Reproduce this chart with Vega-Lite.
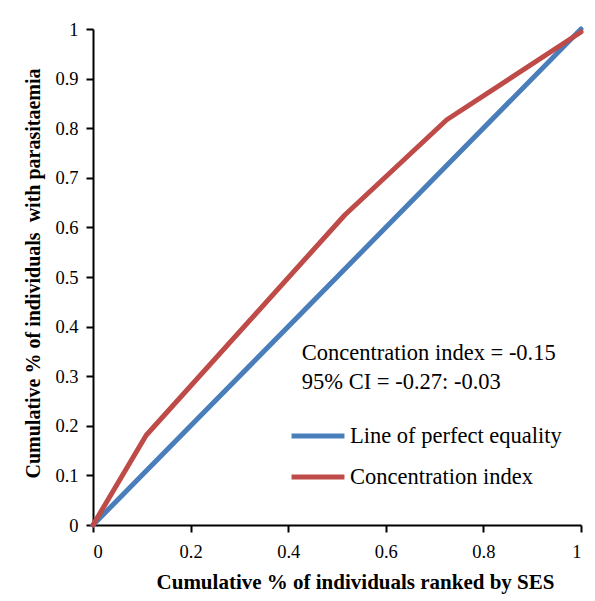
{
  "$schema": "https://vega.github.io/schema/vega-lite/v6.json",
  "autosize": "none",
  "width": 488,
  "height": 496,
  "padding": {"left": 93, "top": 29, "right": 14, "bottom": 76},
  "background": "white",
  "config": {
    "font": "Liberation Serif",
    "view": {"stroke": null},
    "axis": {
      "grid": false,
      "domainColor": "black",
      "domainWidth": 2,
      "tickColor": "black",
      "tickWidth": 2,
      "tickSize": 7,
      "labelFont": "Liberation Serif",
      "labelFontSize": 18.5,
      "labelColor": "black",
      "titleFont": "Liberation Serif",
      "titleFontWeight": "bold",
      "titleColor": "black"
    }
  },
  "datasets": {
    "lines": [
      {"series": "Line of perfect equality", "x": 0, "y": 0, "o": 0},
      {"series": "Line of perfect equality", "x": 1, "y": 1, "o": 1},
      {"series": "Concentration index", "x": 0, "y": 0, "o": 0},
      {"series": "Concentration index", "x": 0.109, "y": 0.181, "o": 1},
      {"series": "Concentration index", "x": 0.516, "y": 0.625, "o": 2},
      {"series": "Concentration index", "x": 0.725, "y": 0.817, "o": 3},
      {"series": "Concentration index", "x": 1, "y": 0.994, "o": 4}
    ],
    "note": [
      {"x": 0.428, "y": 0.347, "label": ["Concentration index = -0.15", "95% CI = -0.27: -0.03"]}
    ]
  },
  "layer": [
    {
      "data": {"name": "lines"},
      "mark": {"type": "line", "strokeWidth": 5, "strokeCap": "round", "strokeJoin": "round", "clip": false},
      "encoding": {
        "x": {
          "field": "x", "type": "quantitative",
          "scale": {"domain": [0, 1], "nice": false, "zero": false},
          "axis": {
            "values": [0, 0.2, 0.4, 0.6, 0.8, 1],
            "format": ".1~f",
            "labelPadding": 10,
            "title": "Cumulative % of individuals ranked by SES",
            "titleFontSize": 21,
            "titleX": 262,
            "titleY": 57,
            "titleBaseline": "middle",
            "titleAlign": "center"
          }
        },
        "y": {
          "field": "y", "type": "quantitative",
          "scale": {"domain": [0, 1], "nice": false, "zero": false},
          "axis": {
            "values": [0, 0.1, 0.2, 0.3, 0.4, 0.5, 0.6, 0.7, 0.8, 0.9, 1],
            "format": ".1~f",
            "labelPadding": 8,
            "title": "Cumulative % of individuals \u00a0with parasitaemia",
            "titleFontSize": 20,
            "titleAngle": -90,
            "titleX": -60,
            "titleY": 244,
            "titleBaseline": "middle",
            "titleAlign": "center"
          }
        },
        "order": {"field": "o"},
        "color": {
          "field": "series", "type": "nominal",
          "scale": {
            "domain": ["Line of perfect equality", "Concentration index"],
            "range": ["#4A7EBB", "#BE4B48"]
          },
          "legend": {
            "title": null,
            "orient": "none",
            "legendX": 196,
            "legendY": 378,
            "symbolType": "stroke",
            "symbolSize": 2800,
            "symbolStrokeWidth": 5,
            "labelFont": "Liberation Serif",
            "labelFontSize": 22.5,
            "labelColor": "black",
            "labelOffset": 3,
            "rowPadding": -16,
            "labelLimit": 300
          }
        }
      }
    },
    {
      "data": {"name": "note"},
      "mark": {"type": "text", "align": "left", "baseline": "middle", "fontSize": 22.5, "font": "Liberation Serif", "lineHeight": 29, "color": "black"},
      "encoding": {
        "x": {"field": "x", "type": "quantitative"},
        "y": {"field": "y", "type": "quantitative"},
        "text": {"field": "label"}
      }
    }
  ]
}
